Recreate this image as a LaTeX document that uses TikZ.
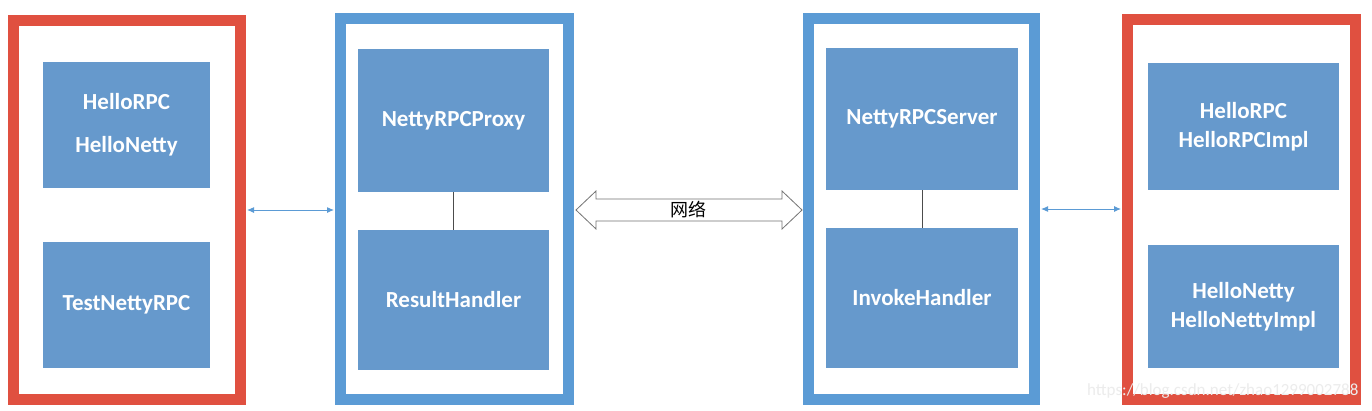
\documentclass[tikz,border=0pt]{standalone}
\usepackage{fontspec}
\setmainfont{Carlito}
\newfontfamily\cjk{Noto Sans CJK SC}
\usetikzlibrary{arrows.meta}
\definecolor{rb}{HTML}{E05040}
\definecolor{bb}{HTML}{5B9BD5}
\definecolor{fb}{HTML}{6699CC}
\tikzset{x=1pt,y=-1pt,
 frame/.style={draw=#1,line width=11pt},
 box/.style={fill=fb,text=white,font=\bfseries\fontsize{23}{29}\selectfont,align=center,inner sep=0},
 link/.style={draw=bb,line width=1pt,{Latex[length=7pt,width=6pt]}-{Latex[length=7pt,width=6pt]}}}
\begin{document}
\begin{tikzpicture}
\useasboundingbox[fill=white] (0,0) rectangle (1372,410);
\draw[frame=rb] (13.5,20.5) rectangle (240.5,399.5);
\draw[frame=bb] (340.5,18.5) rectangle (568.5,399.5);
\draw[frame=bb] (808.5,18.5) rectangle (1034.5,399.5);
\draw[frame=rb] (1127.5,19.5) rectangle (1355.5,399.5);
\node[box,minimum width=167pt,minimum height=126pt] (a1) at (126.5,125) {HelloRPC\\[14pt]HelloNetty};
\node[box,minimum width=167pt,minimum height=126pt] (a2) at (126.5,305) {TestNettyRPC};
\node[box,minimum width=191pt,minimum height=143pt] (b1) at (453.5,120.5) {NettyRPCProxy};
\node[box,minimum width=191pt,minimum height=140pt] (b2) at (453.5,300) {ResultHandler};
\node[box,minimum width=192pt,minimum height=142pt] (c1) at (922,119) {NettyRPCServer};
\node[box,minimum width=192pt,minimum height=140pt] (c2) at (922,298) {InvokeHandler};
\node[box,minimum width=191pt,minimum height=127pt] (d1) at (1243.5,126.5) {HelloRPC\\HelloRPCImpl};
\node[box,minimum width=191pt,minimum height=123pt] (d2) at (1243.5,306.5) {HelloNetty\\HelloNettyImpl};
\draw[black!70,line width=0.8pt] (b1.south) -- (b2.north);
\draw[black!70,line width=0.8pt] (c1.south) -- (c2.north);
\coordinate (l1) at (247,210); \coordinate (l2) at (334,210);
\coordinate (r1) at (1041,209); \coordinate (r2) at (1121,209);
\draw[link] (l1) -- (l2);
\draw[link] (r1) -- (r2);
\draw[draw=black!55,fill=white,line width=0.8pt,line join=miter]
  (576,210) -- (596,191) -- (596,199) -- (782,199) -- (782,191) -- (802,210)
  -- (782,229) -- (782,221) -- (596,221) -- (596,229) -- cycle;
\node[font=\cjk\fontsize{18}{20}\selectfont] (nl) at (688,210) {网络};
\node[text=white!85!gray,font=\fontsize{17}{20}\selectfont,anchor=east] (wm) at (1362,391) {https://blog.csdn.net/zhao1299002788};
\end{tikzpicture}
\end{document}
